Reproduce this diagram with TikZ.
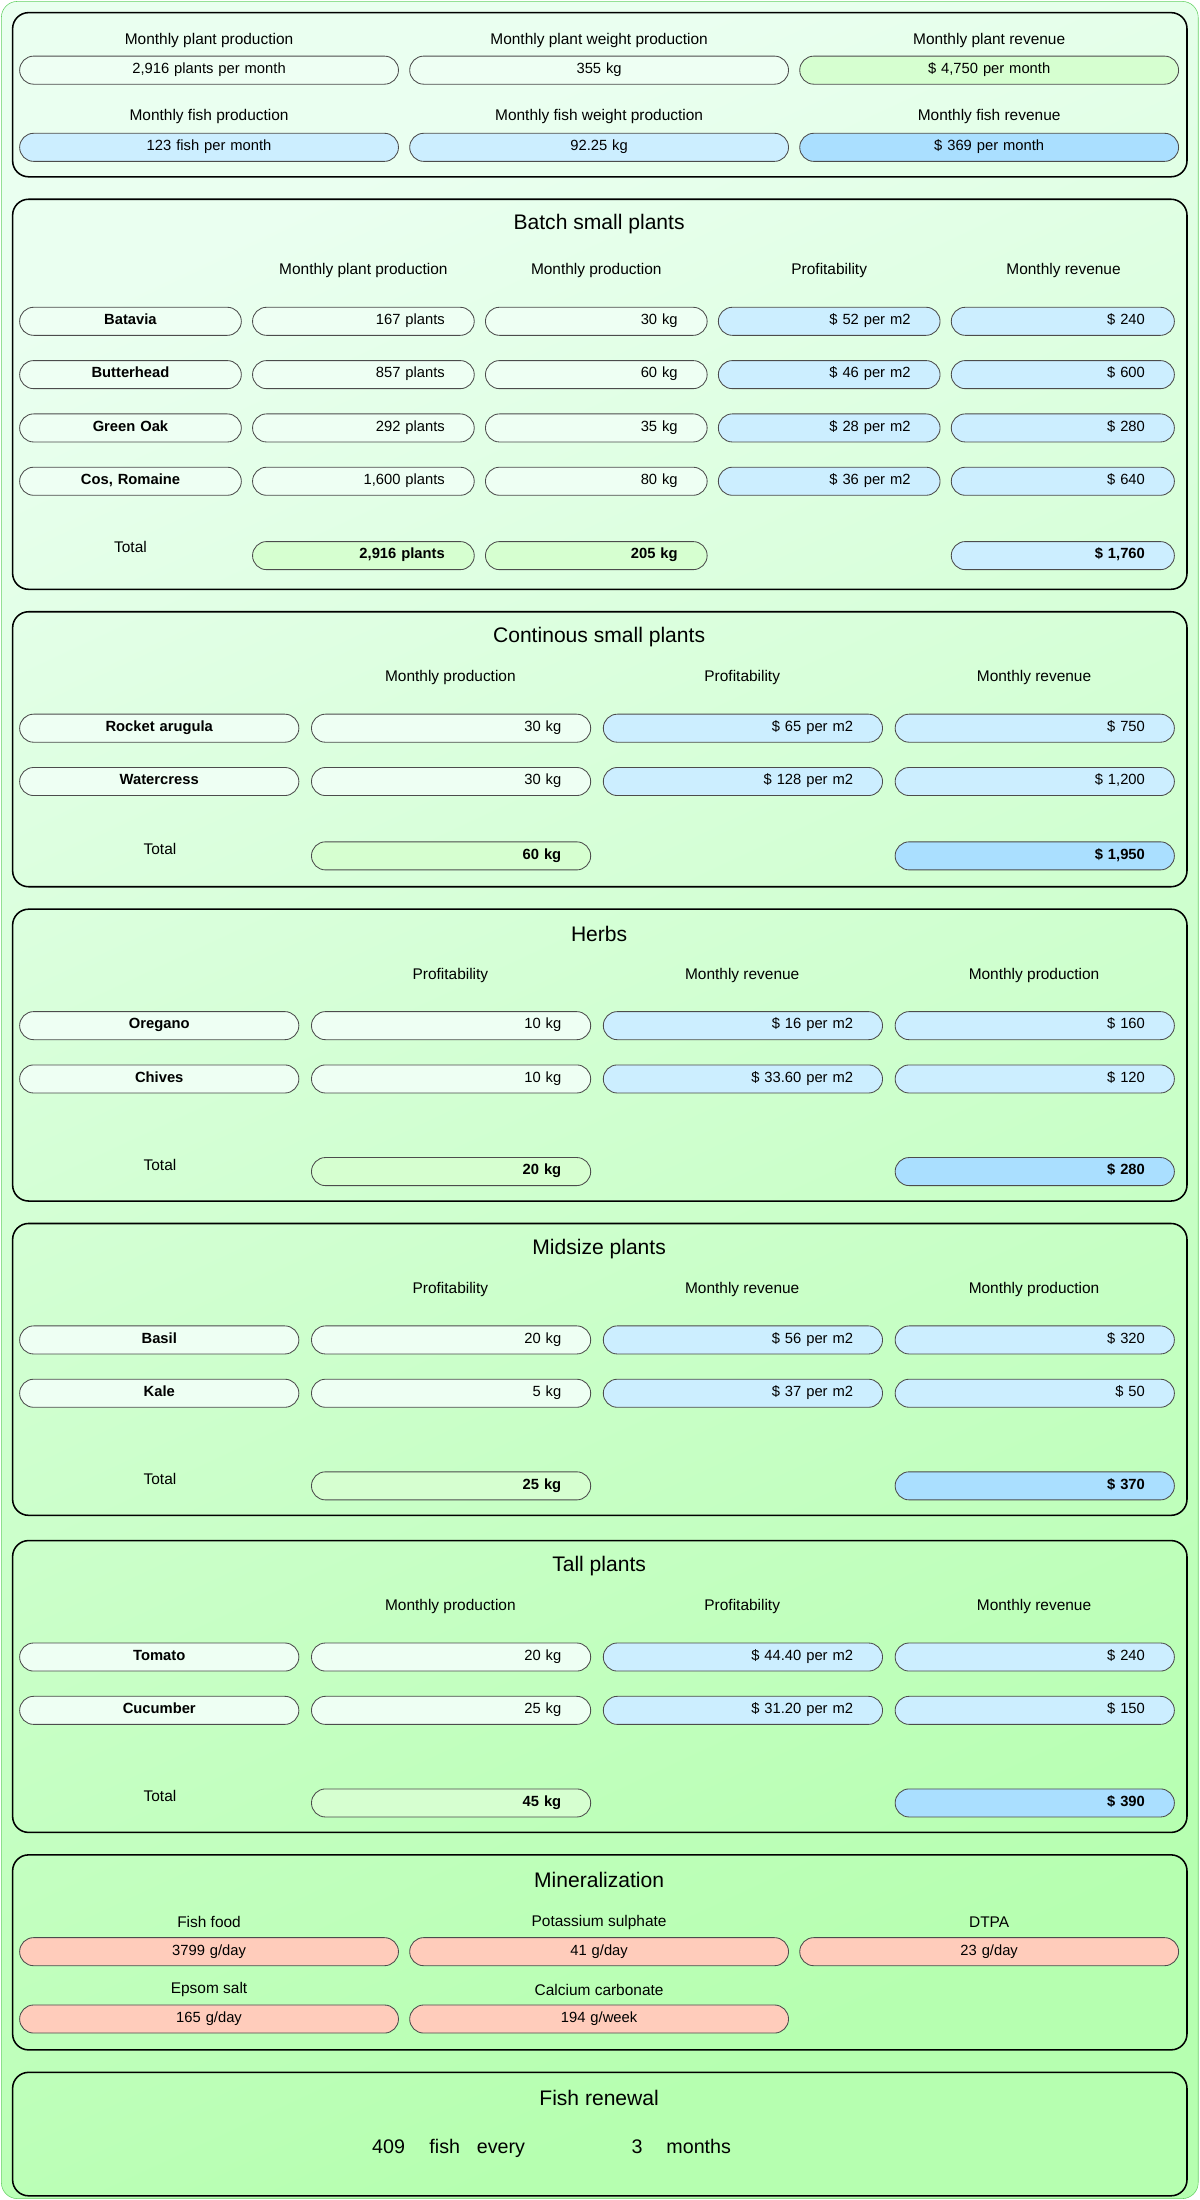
\documentclass[tikz,border=0pt]{standalone}
\usepackage{fontspec}
\setmainfont{Liberation Sans}
\usetikzlibrary{positioning}
\definecolor{mint}{HTML}{EEFFF3}
\definecolor{lgreen}{HTML}{D6FFD0}
\definecolor{lblue}{HTML}{CCEEFF}
\definecolor{dblue}{HTML}{AADFFF}
\definecolor{salmon}{HTML}{FFCCBB}
\definecolor{bgtop}{HTML}{EAFFF0}
\definecolor{bgbot}{HTML}{B6FFB0}
\def\u{0.035088cm}
% cell: [fill]{name}{x1}{x2}{y}{align}{text}
\newcommand\cellbox[7][mint]{%
  \node[cell, fill=#1, align=#6, text width={(#4-#3-42)*\u},
        minimum width={(#4-#3)*\u}] (#2) at ({(#3+#4)/2},#5) {#7};}
\tikzset{
  cell/.style={draw=black!70, line width=0.6pt, rounded corners=3.5mm,
    minimum height=20*\u, inner xsep=21*\u, inner ysep=0pt,
    text height=1.45ex, text depth=0.55ex,
    font=\fontsize{10.5}{12}\selectfont},
  panel/.style={draw=black, line width=1.1pt, rounded corners=4mm},
  head/.style={font=\fontsize{11}{13}\selectfont},
  title/.style={font=\fontsize{15}{18}\selectfont},
}
\begin{document}
\begin{tikzpicture}[x=\u, y=-\u]
\useasboundingbox (0,0) rectangle (855,1568);
\shade[top color=bgtop, bottom color=bgbot, shading angle=25, draw=green!70!black!60,
  rounded corners=4mm] (1,1) rectangle (854,1567);

% summary
\draw[panel] (9,9) rectangle (846,126);
\foreach \t/\x in {{Monthly plant production}/149, {Monthly plant weight production}/427, {Monthly plant revenue}/705}
  \node[head] at (\x,29) {\t};
\foreach \t/\x in {{Monthly fish production}/149, {Monthly fish weight production}/427, {Monthly fish revenue}/705}
  \node[head] at (\x,83) {\t};
\cellbox{plantnum}{14}{284}{50}{center}{2,916 plants per month}
\cellbox{plantkg}{292}{562}{50}{center}{355 kg}
\cellbox[lgreen]{plantrev}{570}{840}{50}{center}{\$ 4,750 per month}
\cellbox[lblue]{fishnum}{14}{284}{105}{center}{123 fish per month}
\cellbox[lblue]{fishkg}{292}{562}{105}{center}{92.25 kg}
\cellbox[dblue]{fishrev}{570}{840}{105}{center}{\$ 369 per month}

% batch small plants
\draw[panel] (9,142) rectangle (846,420);
\node[title] at (427,160) {Batch small plants};
\foreach \t/\x in {{Monthly plant production}/259, {Monthly production}/425, {Profitability}/591, {Monthly revenue}/758}
  \node[head] at (\x,193) {\t};
\foreach \n/\a/\b/\c/\d/\e/\y in {bat/Batavia/167/30/52/240/229, but/Butterhead/857/60/46/600/267,
    oak/Green Oak/292/35/28/280/305, cos/{Cos, Romaine}/{1,600}/80/36/640/343} {
  \cellbox{\n name}{14}{172}{\y}{center}{\textbf{\a}}
  \cellbox{\n num}{180}{338}{\y}{right}{\b\ plants}
  \cellbox{\n kg}{346}{504}{\y}{right}{\c\ kg}
  \cellbox[lblue]{\n prof}{512}{670}{\y}{right}{\$ \d\ per m2}
  \cellbox[lblue]{\n rev}{678}{837}{\y}{right}{\$ \e}
}
\node[head] (battot) at (93,390) {Total};
\cellbox[lgreen]{battotnum}{180}{338}{396}{right}{\textbf{2,916 plants}}
\cellbox[lgreen]{battotkg}{346}{504}{396}{right}{\textbf{205 kg}}
\cellbox[lblue]{battotrev}{678}{837}{396}{right}{\textbf{\$ 1,760}}

% four-column panels
\foreach \top/\bot/\ttl/\ha/\hb/\hc/\ra/\rb/\rc/\tt/\tr/\na/\nb/\va/\vb/\pa/\pb/\ea/\eb [count=\k] in {
  436/632/{Continous small plants}/{Monthly production}/{Profitability}/{Monthly revenue}/519/557/605/{60 kg}/{\$ 1,950}/{Rocket arugula}/Watercress/30/30/65/128/750/{1,200},
  648/856/Herbs/Profitability/{Monthly revenue}/{Monthly production}/731/769/830/{20 kg}/{\$ 280}/Oregano/Chives/10/10/16/33.60/160/120,
  872/1080/{Midsize plants}/Profitability/{Monthly revenue}/{Monthly production}/955/993/1054/{25 kg}/{\$ 370}/Basil/Kale/20/5/56/37/320/50,
  1098/1306/{Tall plants}/{Monthly production}/{Profitability}/{Monthly revenue}/1181/1219/1280/{45 kg}/{\$ 390}/Tomato/Cucumber/20/25/44.40/31.20/240/150} {
  \draw[panel] (9,\top) rectangle (846,\bot);
  \node[title] at (427,\top+18) {\ttl};
  \node[head] at (321,\top+47) {\ha};
  \node[head] at (529,\top+47) {\hb};
  \node[head] at (737,\top+47) {\hc};
  \cellbox{p\k aname}{14}{213}{\ra}{center}{\textbf{\na}}
  \cellbox{p\k akg}{222}{421}{\ra}{right}{\va\ kg}
  \cellbox[lblue]{p\k aprof}{430}{629}{\ra}{right}{\$ \pa\ per m2}
  \cellbox[lblue]{p\k arev}{638}{837}{\ra}{right}{\$ \ea}
  \cellbox{p\k bname}{14}{213}{\rb}{center}{\textbf{\nb}}
  \cellbox{p\k bkg}{222}{421}{\rb}{right}{\vb\ kg}
  \cellbox[lblue]{p\k bprof}{430}{629}{\rb}{right}{\$ \pb\ per m2}
  \cellbox[lblue]{p\k brev}{638}{837}{\rb}{right}{\$ \eb}
  \node[head] (p\k tot) at (114,\rc) {Total};
  \cellbox[lgreen]{p\k totkg}{222}{421}{\rc+5}{right}{\textbf{\tt}}
  \cellbox[dblue]{p\k totrev}{638}{837}{\rc+5}{right}{\textbf{\tr}}
}

% mineralization
\draw[panel] (9,1322) rectangle (846,1461);
\node[title] at (427,1340) {Mineralization};
\foreach \t/\x/\y in {{Fish food}/149/1370, {Potassium sulphate}/427/1370, DTPA/705/1370,
    {Epsom salt}/149/1418, {Calcium carbonate}/427/1418}
  \node[head] at (\x,\y) {\t};
\cellbox[salmon]{fishfood}{14}{284}{1391}{center}{3799 g/day}
\cellbox[salmon]{potassium}{292}{562}{1391}{center}{41 g/day}
\cellbox[salmon]{dtpa}{570}{840}{1391}{center}{23 g/day}
\cellbox[salmon]{epsom}{14}{284}{1439}{center}{165 g/day}
\cellbox[salmon]{calcium}{292}{562}{1439}{center}{194 g/week}

% fish renewal
\draw[panel] (9,1477) rectangle (846,1565);
\node[title] at (427,1495) {Fish renewal};
\foreach \t/\x in {409/277, fish/317, every/357, 3/454, months/498}
  \node[anchor=base, font=\fontsize{14}{16}\selectfont] at (\x,1535) {\t};
\end{tikzpicture}
\end{document}
